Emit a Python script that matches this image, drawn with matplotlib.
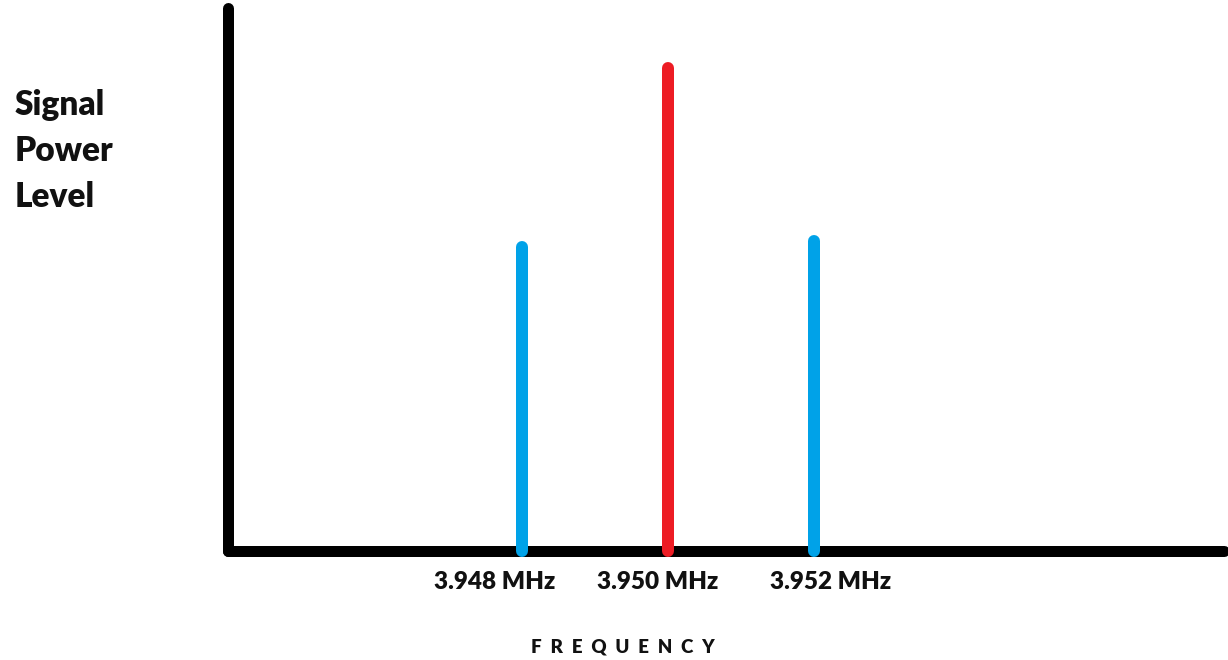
import matplotlib
matplotlib.use("Agg")
import matplotlib.pyplot as plt

# ---- data ----
stem_freqs = [3.948, 3.950, 3.952]          # MHz
stem_levels = [5.6, 8.9, 5.7]               # arbitrary power units (axis 0..10)
stem_colors = ["#00A2E8", "#ED1C24", "#00A2E8"]
tick_labels = ["3.948 MHz", "3.950 MHz", "3.952 MHz"]
label_freqs = [3.94763, 3.94986, 3.95223]   # where the hand-written labels sit
x_title = "F  R  E  Q  U  E  N  C  Y"
y_title_lines = ["Signal", "Power", "Level"]

W, H = 1228, 660
fig = plt.figure(figsize=(W / 100, H / 100), dpi=100)
fig.patch.set_facecolor("white")

ax_left, ax_bottom, ax_right, ax_top = 228, 551, 1224, 8
ax = fig.add_axes([ax_left / W, (H - ax_bottom) / H,
                   (ax_right - ax_left) / W, (ax_bottom - ax_top) / H])
ax.set_xlim(3.943973, 3.957616)
ax.set_ylim(0, 10)
ax.axis("off")

px = 72 / 100  # points per pixel
# axis lines (hand-drawn thick black)
ax.plot([0, 0], [0, 1], transform=ax.transAxes, color="black",
        lw=11 * px, solid_capstyle="round", clip_on=False, zorder=2)
ax.plot([0, 1], [0, 0], transform=ax.transAxes, color="black",
        lw=11 * px, solid_capstyle="round", clip_on=False, zorder=2)

# stems
for f, lvl, c in zip(stem_freqs, stem_levels, stem_colors):
    ax.plot([f, f], [0, lvl], color=c, lw=12 * px,
            solid_capstyle="round", clip_on=False, zorder=3)

font = ["Lato", "DejaVu Sans"]
# tick labels
for f, t in zip(label_freqs, tick_labels):
    ax.text(f, -0.57, t, ha="center", va="center", fontsize=17.5,
            fontweight="heavy", family=font, color="#111111", clip_on=False)

# x title
fig.text(623 / W, 1 - 647 / H, x_title, ha="center", va="center",
         fontsize=13.5, fontweight="heavy", family=font, color="#111111")

# y title
for i, line in enumerate(y_title_lines):
    fig.text(15 / W, 1 - (105 + 46 * i) / H, line, ha="left", va="center",
             fontsize=24, fontweight="heavy", family=font, color="#111111")

fig.savefig("out.png", dpi=100, facecolor="white")
